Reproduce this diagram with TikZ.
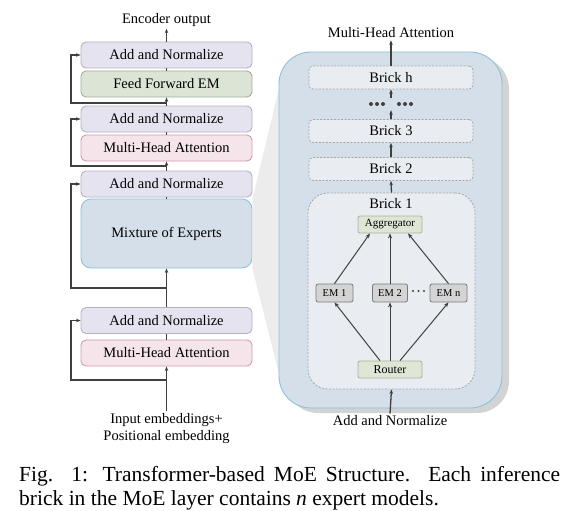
\documentclass[tikz,border=0pt]{standalone}
\usepackage{fontspec}
\setmainfont{Liberation Serif}
\usetikzlibrary{arrows.meta}

\definecolor{normfill}{HTML}{E6E3F0}
\definecolor{normline}{HTML}{B4B2BE}
\definecolor{fffill}{HTML}{DCE4D6}
\definecolor{ffline}{HTML}{A2B09A}
\definecolor{attfill}{HTML}{F5E4EA}
\definecolor{attline}{HTML}{D49AAE}
\definecolor{moefill}{HTML}{D4DFEA}
\definecolor{moeline}{HTML}{8CC2D8}
\definecolor{brickfill}{HTML}{E9EDF2}
\definecolor{brickline}{HTML}{A6A6A6}
\definecolor{gatefill}{HTML}{DFE6D6}
\definecolor{gateline}{HTML}{A8B39A}
\definecolor{emfill}{HTML}{D4D4D4}
\definecolor{emline}{HTML}{7A7A7A}
\definecolor{linegray}{HTML}{404040}
\definecolor{wedgegray}{HTML}{ECECEC}
\definecolor{shadowgray}{HTML}{D3D3D3}

\tikzset{
  layer/.style={draw, rounded corners=5pt, minimum width=171pt, minimum height=26pt,
    inner sep=0pt, line width=0.9pt, font=\fontsize{14.5}{17}\selectfont},
  normbox/.style={layer, fill=normfill, draw=normline},
  ffbox/.style={layer, fill=fffill, draw=ffline},
  attbox/.style={layer, fill=attfill, draw=attline},
  moebox/.style={layer, fill=moefill, draw=moeline, minimum height=69pt, rounded corners=10pt},
  brick/.style={draw=brickline, fill=brickfill, dashed, dash pattern=on 2pt off 1.5pt,
    line width=0.8pt, rounded corners=4pt, minimum width=164pt, minimum height=23pt,
    inner sep=0pt, font=\fontsize{14.5}{17}\selectfont},
  gatebox/.style={draw=gateline, fill=gatefill, rounded corners=2pt, line width=0.8pt,
    minimum width=64pt, minimum height=17pt, inner sep=0pt, font=\fontsize{11}{13}\selectfont},
  embox/.style={draw=emline, fill=emfill, rounded corners=2pt, line width=0.8pt,
    minimum width=37pt, minimum height=18pt, inner sep=0pt, font=\fontsize{10.5}{12}\selectfont},
  txt/.style={font=\fontsize{14.5}{17}\selectfont, inner sep=2pt},
  flow/.style={draw=linegray, line width=1.3pt, -{Stealth[length=4.5pt,width=3.5pt]}},
  link/.style={draw=linegray, line width=1.3pt},
  thinflow/.style={draw=linegray, line width=1pt, -{Stealth[length=5pt,width=4pt]}},
}

\begin{document}
\begin{tikzpicture}[x=1pt,y=-1pt]
  \useasboundingbox (0,0) rectangle (570,511);

  % encoder column
  \node[normbox] (an1) at (166.5,55) {Add and Normalize};
  \node[ffbox] (ff) at (166.5,84) {Feed Forward EM};
  \node[normbox] (an2) at (166.5,119) {Add and Normalize};
  \node[attbox] (mha1) at (166.5,148) {Multi-Head Attention};
  \node[normbox] (an3) at (166.5,184) {Add and Normalize};
  \node[moebox] (moe) at (166.5,233.5) {Mixture of Experts};
  \node[normbox] (an4) at (166.5,320.5) {Add and Normalize};
  \node[attbox] (mha2) at (166.5,353) {Multi-Head Attention};

  \node[txt] (enc) at (166.5,20) {Encoder output};
  \node[txt, align=center] (inp) at (166.5,428.5) {Input embeddings+\\Positional embedding};

  % junctions of the residual paths
  \coordinate (rail) at (71,0);
  \coordinate (j1) at (166.5,103);
  \coordinate (j2) at (166.5,166);
  \coordinate (j3) at (166.5,288);
  \coordinate (j4) at (166.5,380);

  % main flow
  \draw[flow] (an1.north) -- (enc.south);
  \draw[link] (ff.north) -- (an1.south);
  \draw[flow] (an2.north) -- (ff.south);
  \draw[link] (mha1.north) -- (an2.south);
  \draw[flow] (an3.north) -- (mha1.south);
  \draw[link] (moe.north) -- (an3.south);
  \draw[flow] (an4.north) -- (moe.south);
  \draw[link] (mha2.north) -- (an4.south);
  \draw[flow] (inp.north) -- (mha2.south);

  % residual connections
  \draw[flow] (j1) -- (j1 -| rail) |- (an1.west);
  \draw[flow] (j2) -- (j2 -| rail) |- (an2.west);
  \draw[flow] (j3) -- (j3 -| rail) |- (an3.west);
  \draw[flow] (j4) -- (j4 -| rail) |- (an4.west);

  % zoom wedge and MoE layer
  \fill[wedgegray] (moe.north east) -- (283,72) -- (283,390) -- (moe.south east) -- cycle;
  \fill[shadowgray, rounded corners=32pt] (286,57) rectangle (509,413);
  \node[draw=moeline, fill=moefill, line width=0.9pt, rounded corners=32pt,
    minimum width=223pt, minimum height=356pt, inner sep=0pt] (moelayer) at (390.5,230) {};

  % bricks
  \node[brick] (bh) at (391,77.5) {Brick h};
  \node[brick] (b3) at (391,131) {Brick 3};
  \node[brick] (b2) at (391,169) {Brick 2};
  \node[brick, rounded corners=20pt, minimum width=167pt, minimum height=196pt] (b1) at (391.5,291) {};
  \node[txt] (b1name) at (391,204) {Brick 1};
  \node[minimum width=50pt, minimum height=12pt, inner sep=0pt] (gap) at (391,104) {};
  \foreach \x in {371,377,383,399,405,411}
    \fill[linegray] (\x,104) circle (2pt);

  \node[txt] (mhaout) at (391,33) {Multi-Head Attention};
  \node[txt] (anin) at (390,421) {Add and Normalize};

  \draw[flow] (bh.north) -- (mhaout.south);
  \draw[flow] (gap.north) -- (bh.south);
  \draw[flow] (b3.north) -- (gap.south);
  \draw[flow] (b2.north) -- (b3.south);
  \draw[flow] (b1.north) -- (b2.south);
  \draw[flow] (anin.north) -- (b1.south);

  % inside brick 1
  \node[gatebox] (agg) at (390,224.5) {Aggregator};
  \node[embox] (em1) at (334.5,293) {EM 1};
  \node[embox, minimum width=35pt] (em2) at (390,293) {EM 2};
  \node[embox] (emn) at (448.5,293) {EM n};
  \node[minimum width=14pt, minimum height=4pt, inner sep=0pt] (emdots) at (418.5,291) {};
  \foreach \x in {413,418.5,424}
    \fill[linegray] (\x,291) circle (1.2pt);
  \node[gatebox, font=\fontsize{12}{14}\selectfont] (router) at (390,369.5) {Router};

  \draw[thinflow] ([xshift=-10pt]router.north) -- (em1.south);
  \draw[thinflow] (router.north) -- (em2.south);
  \draw[thinflow] ([xshift=10pt]router.north) -- (emn.south);
  \draw[thinflow] (em1.north) -- ([xshift=-20pt]agg.south);
  \draw[thinflow] (em2.north) -- (agg.south);
  \draw[thinflow] (emn.north) -- ([xshift=18pt]agg.south);

  % caption
  \node[anchor=north west, inner sep=0pt, text width=541pt, align=justify,
    font=\fontsize{21.5}{24}\selectfont] (caption) at (19,466)
    {Fig. 1: Transformer-based MoE Structure. Each inference\linebreak
     brick in the MoE layer contains \textit{n} expert models.};
\end{tikzpicture}
\end{document}
